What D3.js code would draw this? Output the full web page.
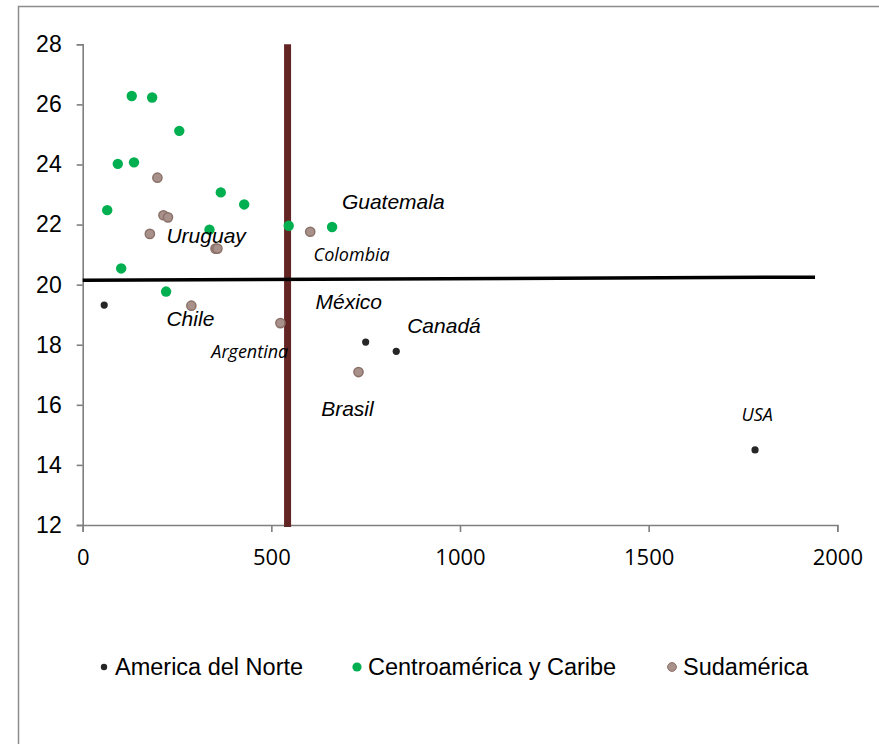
<!DOCTYPE html>
<html>
<head>
<meta charset="utf-8">
<script src="https://cdn.jsdelivr.net/npm/d3@7"></script>
<style>
  body { margin: 0; background: #fff; }
  .tick text { fill: #000; }
</style>
</head>
<body>
<div id="chart"></div>
<script>
// series: [x, y]
var norte = [[57, 19.32], [750, 18.09], [831, 17.78], [1782, 14.5]];
var centro = [[130, 26.28], [184, 26.23], [256, 25.12], [93, 24.02], [136, 24.07],
    [65, 22.48], [366, 23.07], [428, 22.67], [336, 21.83], [546, 21.96],
    [661, 21.92], [102, 20.54], [221, 19.77]];
var sud = [[198, 23.56], [214, 22.31], [226, 22.24], [178, 21.69], [352, 21.2],
    [357, 21.2], [603, 21.76], [288, 19.3], [524, 18.72], [731, 17.09]];

var seriesNames = ["America del Norte", "Centroamérica y Caribe", "Sudamérica"];

// country labels [name, x, y]
var labels = [["Guatemala", 687, 22.53], ["México", 617, 19.19], ["Canadá", 860, 18.38],
    ["Brasil", 632, 15.63], ["Uruguay", 222, 21.38], ["Chile", 222, 18.61]];
var labelsAlt = [["Colombia", 612, 20.8], ["Argentina", 341, 17.56], ["USA", 1746, 15.47]];

// reference lines
var vLine = [[543, 11.93], [543, 28]];
var hLine = [[0, 20.15], [1941, 20.25]];

var xTicks = [0, 500, 1000, 1500, 2000];
var yTicks = [12, 14, 16, 18, 20, 22, 24, 26, 28];

var W = 879, H = 744;

var svg = d3.select("#chart").append("svg")
    .attr("width", W)
    .attr("height", H);

// chart frame
svg.append("rect")
    .attr("x", 18.5).attr("y", 6.5)
    .attr("width", 1000).attr("height", 1000)
    .attr("fill", "none")
    .attr("stroke", "#8c8c8c")
    .attr("stroke-width", 1.5);

var x = d3.scaleLinear().domain([0, 2000]).range([82.7, 837.3]);
var y = d3.scaleLinear().domain([12, 28]).range([525, 44.3]);

// axes
var xAxis = svg.append("g")
    .attr("transform", "translate(0," + y(12) + ")")
    .call(d3.axisBottom(x).tickValues(xTicks).tickFormat(d3.format("d")).tickSize(7).tickPadding(17));
xAxis.selectAll("text")
    .style("font-family", "'Open Sans', sans-serif")
    .style("font-size", "22px");

var yAxis = svg.append("g")
    .attr("transform", "translate(" + x(0) + ",0)")
    .call(d3.axisLeft(y).tickValues(yTicks).tickSize(6).tickPadding(15));
yAxis.selectAll("text")
    .style("font-family", "'Liberation Sans', Arial, sans-serif")
    .style("font-size", "23px");

svg.selectAll(".domain, .tick line")
    .attr("stroke", "#7f7f7f")
    .attr("stroke-width", 1.6);

var line = d3.line()
    .x(function(d) { return x(d[0]); })
    .y(function(d) { return y(d[1]); });

svg.append("path")
    .attr("d", line(vLine))
    .attr("stroke", "#632523")
    .attr("stroke-width", 7)
    .attr("fill", "none");

svg.append("path")
    .attr("d", line(hLine))
    .attr("stroke", "#000")
    .attr("stroke-width", 3.5)
    .attr("fill", "none");

// points
function drawPoints(data, r, fill, stroke) {
    svg.append("g").selectAll("circle")
        .data(data)
        .enter().append("circle")
        .attr("cx", function(d) { return x(d[0]); })
        .attr("cy", function(d) { return y(d[1]); })
        .attr("r", r)
        .attr("fill", fill)
        .attr("stroke", stroke)
        .attr("stroke-width", stroke == "none" ? 0 : 1.5);
}
drawPoints(centro, 5.2, "#00b050", "none");
drawPoints(sud, 4.6, "#a8918a", "#8b7169");
drawPoints(norte, 3.6, "#262626", "none");

// labels
svg.append("g").selectAll("text")
    .data(labels)
    .enter().append("text")
    .attr("x", function(d) { return x(d[1]); })
    .attr("y", function(d) { return y(d[2]); })
    .style("font-family", "'Liberation Sans', Arial, sans-serif")
    .style("font-style", "italic")
    .style("font-size", "21px")
    .text(function(d) { return d[0]; });

svg.append("g").selectAll("text")
    .data(labelsAlt)
    .enter().append("text")
    .attr("x", function(d) { return x(d[1]); })
    .attr("y", function(d) { return y(d[2]); })
    .style("font-family", "'Open Sans', sans-serif")
    .style("font-style", "italic")
    .style("font-size", "18px")
    .text(function(d) { return d[0]; });

// legend
var legendX = [104, 357, 672];
var legendR = [3.2, 4.6, 4.4];
var legendFill = ["#262626", "#00b050", "#a8918a"];
var legend = svg.append("g").attr("transform", "translate(0,667)");
seriesNames.forEach(function(name, i) {
    legend.append("circle")
        .attr("cx", legendX[i])
        .attr("cy", 0)
        .attr("r", legendR[i])
        .attr("fill", legendFill[i])
        .attr("stroke", i == 2 ? "#8b7169" : "none");
    legend.append("text")
        .attr("x", legendX[i] + 11)
        .attr("y", 8)
        .style("font-family", "'Liberation Sans', Arial, sans-serif")
        .style("font-size", "23.5px")
        .text(name);
});
</script>
</body>
</html>
